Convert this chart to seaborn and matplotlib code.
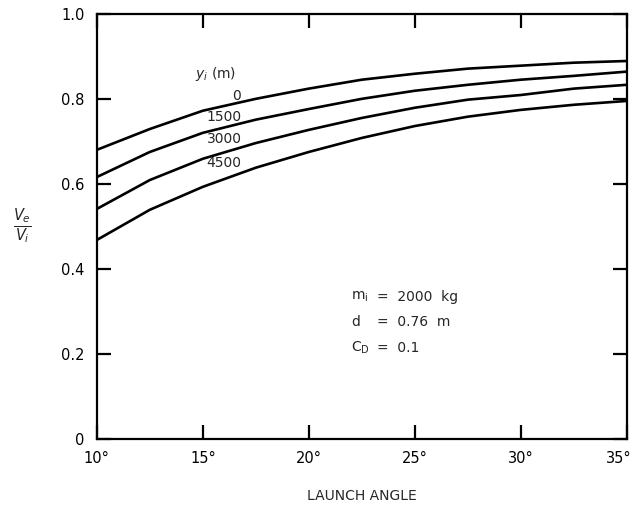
import matplotlib
matplotlib.use('Agg')
import matplotlib.pyplot as plt
import matplotlib.transforms as mtransforms
import numpy as np
import pandas as pd
import seaborn as sns

# launch angle (deg) and Ve/Vi, one list per altitude
angles = [10, 12.5, 15, 17.5, 20, 22.5, 25, 27.5, 30, 32.5, 35]
ratio_0 = [0.680, 0.729, 0.772, 0.800, 0.824, 0.845, 0.859, 0.871, 0.878, 0.885, 0.889]
ratio_1500 = [0.616, 0.675, 0.720, 0.751, 0.776, 0.800, 0.819, 0.833, 0.845, 0.854, 0.864]
ratio_3000 = [0.541, 0.609, 0.659, 0.696, 0.727, 0.755, 0.779, 0.798, 0.809, 0.824, 0.833]
ratio_4500 = [0.468, 0.539, 0.593, 0.638, 0.675, 0.708, 0.736, 0.758, 0.774, 0.786, 0.795]
altitudes = ['0', '1500', '3000', '4500']

x_ticks = [10, 15, 20, 25, 30, 35]
x_labels = ['10°', '15°', '20°', '25°', '30°', '35°']
y_ticks = [0, 0.2, 0.4, 0.6, 0.8, 1.0]
y_labels = ['0', '0.2', '0.4', '0.6', '0.8', '1.0']

frames = []
for alt, vals in zip(altitudes, [ratio_0, ratio_1500, ratio_3000, ratio_4500]):
    frames.append(pd.DataFrame({'angle': angles, 'ratio': vals, 'alt': alt}))
df = pd.concat(frames, ignore_index=True)

sns.set_style('ticks')
plt.rcParams['font.family'] = ['DejaVu Sans']

fig = plt.figure(figsize=(6.37, 5.11), dpi=100)
ax = fig.add_axes([0.152, 0.141, 0.832, 0.832])

sns.lineplot(data=df, x='angle', y='ratio', hue='alt', palette=['black'] * 4,
             linewidth=1.9, legend=False, ax=ax)

ax.set_xlim(10, 35)
ax.set_ylim(0, 1.0)
ax.set_xticks(x_ticks)
ax.set_xticklabels(x_labels)
ax.set_yticks(y_ticks)
ax.set_yticklabels(y_labels)
ax.tick_params(direction='in', length=10, width=1.6, top=True, right=True,
               labelsize=10.5, colors='black', pad=9)
for s in ax.spines.values():
    s.set_linewidth(1.6)
    s.set_color('black')

# last x label sits right at the figure edge, nudge it left a bit
last = ax.get_xticklabels()[-1]
last.set_transform(last.get_transform() + mtransforms.ScaledTranslation(-6 / 72, 0, fig.dpi_scale_trans))

ax.set_xlabel('LAUNCH ANGLE', fontsize=10, labelpad=16)
ax.set_ylabel(r'$\frac{V_e}{V_i}$', fontsize=15, rotation=0, labelpad=28, va='center')

# curve labels
ax.text(15.6, 0.858, r'$y_i$ (m)', fontsize=10, ha='center', va='center')
lab_pos = {'0': (16.6, 0.806), '1500': (16.0, 0.757), '3000': (16.0, 0.705), '4500': (16.0, 0.650)}
for alt in altitudes:
    px, py = lab_pos[alt]
    ax.text(px, py, alt, fontsize=10, ha='center', va='center')

# parameter block
ax.text(22.0, 0.334, r'$\mathregular{m_i}$', fontsize=10, va='center')
ax.text(23.2, 0.334, '=  2000  kg', fontsize=10, va='center')
ax.text(22.0, 0.275, 'd', fontsize=10, va='center')
ax.text(23.2, 0.275, '=  0.76  m', fontsize=10, va='center')
ax.text(22.0, 0.214, r'$\mathregular{C_D}$', fontsize=10, va='center')
ax.text(23.2, 0.214, '=  0.1', fontsize=10, va='center')

fig.savefig('out.png', dpi=100)
